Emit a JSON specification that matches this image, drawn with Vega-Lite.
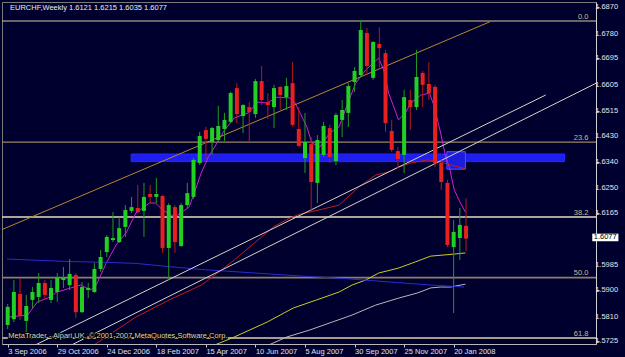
{
  "$schema": "https://vega.github.io/schema/vega-lite/v6.json",
  "width": 594,
  "height": 342,
  "autosize": {"type": "none"},
  "padding": {"left": 2, "top": 2, "right": 29, "bottom": 13},
  "background": "#00002e",
  "config": {
    "view": {"stroke": "#7a7a7a", "strokeWidth": 1, "fill": "#00002e"},
    "font": "Liberation Sans",
    "axis": {"labelOverlap": false, "labelFlush": false, "labelBound": false}
  },
  "resolve": {"scale": {"color": "independent", "fill": "independent", "stroke": "independent", "strokeWidth": "independent"}},
  "datasets": {
    "candles": [
      {"wk":0,"o":1.5781,"h":1.5853,"l":1.5767,"c":1.5843},
      {"wk":1,"o":1.5801,"h":1.5935,"l":1.5791,"c":1.5894},
      {"wk":2,"o":1.5887,"h":1.5942,"l":1.5798,"c":1.5812},
      {"wk":3,"o":1.5795,"h":1.5884,"l":1.5753,"c":1.5846},
      {"wk":4,"o":1.5867,"h":1.5911,"l":1.5839,"c":1.5894},
      {"wk":5,"o":1.5877,"h":1.5959,"l":1.5856,"c":1.5925},
      {"wk":6,"o":1.5925,"h":1.5935,"l":1.5867,"c":1.5884},
      {"wk":7,"o":1.5867,"h":1.5935,"l":1.5856,"c":1.5908},
      {"wk":8,"o":1.5894,"h":1.5959,"l":1.5860,"c":1.5942},
      {"wk":9,"o":1.5935,"h":1.5980,"l":1.5908,"c":1.5942},
      {"wk":10,"o":1.5918,"h":1.6007,"l":1.5901,"c":1.5956},
      {"wk":11,"o":1.5952,"h":1.5959,"l":1.5805,"c":1.5825},
      {"wk":12,"o":1.5825,"h":1.5928,"l":1.5822,"c":1.5911},
      {"wk":13,"o":1.5901,"h":1.5925,"l":1.5873,"c":1.5908},
      {"wk":14,"o":1.5894,"h":1.5993,"l":1.5891,"c":1.5973},
      {"wk":15,"o":1.5973,"h":1.6038,"l":1.5963,"c":1.6014},
      {"wk":16,"o":1.6031,"h":1.6089,"l":1.6014,"c":1.6083},
      {"wk":17,"o":1.6072,"h":1.6168,"l":1.6065,"c":1.6079},
      {"wk":18,"o":1.6065,"h":1.6151,"l":1.6062,"c":1.6113},
      {"wk":19,"o":1.6117,"h":1.6192,"l":1.6083,"c":1.6175},
      {"wk":20,"o":1.6172,"h":1.6220,"l":1.6165,"c":1.6185},
      {"wk":21,"o":1.6182,"h":1.6261,"l":1.6165,"c":1.6168},
      {"wk":22,"o":1.6172,"h":1.6268,"l":1.6083,"c":1.6220},
      {"wk":23,"o":1.6230,"h":1.6261,"l":1.6199,"c":1.6220},
      {"wk":24,"o":1.6220,"h":1.6285,"l":1.6199,"c":1.6230},
      {"wk":25,"o":1.6223,"h":1.6227,"l":1.6028,"c":1.6045},
      {"wk":26,"o":1.6045,"h":1.6199,"l":1.5935,"c":1.6192},
      {"wk":27,"o":1.6185,"h":1.6192,"l":1.6028,"c":1.6065},
      {"wk":28,"o":1.6052,"h":1.6199,"l":1.6048,"c":1.6192},
      {"wk":29,"o":1.6192,"h":1.6268,"l":1.6182,"c":1.6233},
      {"wk":30,"o":1.6220,"h":1.6353,"l":1.6213,"c":1.6347},
      {"wk":31,"o":1.6336,"h":1.6443,"l":1.6329,"c":1.6429},
      {"wk":32,"o":1.6449,"h":1.6460,"l":1.6347,"c":1.6419},
      {"wk":33,"o":1.6408,"h":1.6460,"l":1.6364,"c":1.6456},
      {"wk":34,"o":1.6415,"h":1.6532,"l":1.6408,"c":1.6463},
      {"wk":35,"o":1.6453,"h":1.6508,"l":1.6412,"c":1.6484},
      {"wk":36,"o":1.6477,"h":1.6580,"l":1.6473,"c":1.6576},
      {"wk":37,"o":1.6593,"h":1.6610,"l":1.6473,"c":1.6504},
      {"wk":38,"o":1.6497,"h":1.6538,"l":1.6439,"c":1.6535},
      {"wk":39,"o":1.6528,"h":1.6545,"l":1.6408,"c":1.6511},
      {"wk":40,"o":1.6504,"h":1.6624,"l":1.6491,"c":1.6617},
      {"wk":41,"o":1.6617,"h":1.6669,"l":1.6535,"c":1.6552},
      {"wk":42,"o":1.6545,"h":1.6576,"l":1.6487,"c":1.6535},
      {"wk":43,"o":1.6528,"h":1.6604,"l":1.6456,"c":1.6593},
      {"wk":44,"o":1.6597,"h":1.6600,"l":1.6518,"c":1.6569},
      {"wk":45,"o":1.6562,"h":1.6628,"l":1.6518,"c":1.6600},
      {"wk":46,"o":1.6610,"h":1.6682,"l":1.6460,"c":1.6467},
      {"wk":47,"o":1.6453,"h":1.6528,"l":1.6391,"c":1.6395},
      {"wk":48,"o":1.6353,"h":1.6508,"l":1.6302,"c":1.6408},
      {"wk":49,"o":1.6401,"h":1.6425,"l":1.6168,"c":1.6271},
      {"wk":50,"o":1.6268,"h":1.6432,"l":1.6199,"c":1.6415},
      {"wk":51,"o":1.6364,"h":1.6477,"l":1.6357,"c":1.6463},
      {"wk":52,"o":1.6456,"h":1.6467,"l":1.6336,"c":1.6357},
      {"wk":53,"o":1.6343,"h":1.6508,"l":1.6329,"c":1.6501},
      {"wk":54,"o":1.6484,"h":1.6552,"l":1.6425,"c":1.6518},
      {"wk":55,"o":1.6508,"h":1.6610,"l":1.6460,"c":1.6600},
      {"wk":56,"o":1.6614,"h":1.6665,"l":1.6580,"c":1.6652},
      {"wk":57,"o":1.6638,"h":1.6826,"l":1.6631,"c":1.6792},
      {"wk":58,"o":1.6782,"h":1.6799,"l":1.6638,"c":1.6669},
      {"wk":59,"o":1.6628,"h":1.6754,"l":1.6621,"c":1.6751},
      {"wk":60,"o":1.6744,"h":1.6802,"l":1.6665,"c":1.6730},
      {"wk":61,"o":1.6713,"h":1.6724,"l":1.6443,"c":1.6473},
      {"wk":62,"o":1.6446,"h":1.6484,"l":1.6374,"c":1.6381},
      {"wk":63,"o":1.6377,"h":1.6391,"l":1.6319,"c":1.6350},
      {"wk":64,"o":1.6364,"h":1.6587,"l":1.6302,"c":1.6562},
      {"wk":65,"o":1.6552,"h":1.6587,"l":1.6449,"c":1.6528},
      {"wk":66,"o":1.6528,"h":1.6724,"l":1.6518,"c":1.6631},
      {"wk":67,"o":1.6645,"h":1.6652,"l":1.6528,"c":1.6604},
      {"wk":68,"o":1.6607,"h":1.6682,"l":1.6552,"c":1.6576},
      {"wk":69,"o":1.6597,"h":1.6604,"l":1.6322,"c":1.6336},
      {"wk":70,"o":1.6336,"h":1.6347,"l":1.6244,"c":1.6271},
      {"wk":71,"o":1.6268,"h":1.6278,"l":1.6048,"c":1.6055},
      {"wk":72,"o":1.6048,"h":1.6141,"l":1.5822,"c":1.6100},
      {"wk":73,"o":1.6079,"h":1.6182,"l":1.6004,"c":1.6124},
      {"wk":74,"o":1.6121,"h":1.6215,"l":1.6035,"c":1.6077}
    ],
    "lines": [
      {"s":"m","wk":0.05,"p":1.5808},{"s":"m","wk":3.2,"p":1.5815},{"s":"m","wk":4.8,"p":1.5860},{"s":"m","wk":6.4,"p":1.5873},
      {"s":"m","wk":8.0,"p":1.5894},{"s":"m","wk":10.2,"p":1.5908},{"s":"m","wk":11.8,"p":1.5918},{"s":"m","wk":13.4,"p":1.5901},
      {"s":"m","wk":14.3,"p":1.5918},{"s":"m","wk":15.9,"p":1.5993},{"s":"m","wk":17.5,"p":1.6055},{"s":"m","wk":19.1,"p":1.6096},
      {"s":"m","wk":20.7,"p":1.6165},{"s":"m","wk":22.9,"p":1.6199},{"s":"m","wk":23.9,"p":1.6199},{"s":"m","wk":25.0,"p":1.6175},
      {"s":"m","wk":27.0,"p":1.6151},{"s":"m","wk":29.3,"p":1.6185},{"s":"m","wk":31.3,"p":1.6305},{"s":"m","wk":32.4,"p":1.6357},
      {"s":"m","wk":33.4,"p":1.6391},{"s":"m","wk":35.0,"p":1.6449},{"s":"m","wk":36.6,"p":1.6491},{"s":"m","wk":38.8,"p":1.6508},
      {"s":"m","wk":40.4,"p":1.6545},{"s":"m","wk":41.9,"p":1.6542},{"s":"m","wk":43.5,"p":1.6562},{"s":"m","wk":45.6,"p":1.6559},
      {"s":"m","wk":46.4,"p":1.6542},{"s":"m","wk":47.2,"p":1.6508},{"s":"m","wk":48.3,"p":1.6460},{"s":"m","wk":49.1,"p":1.6405},
      {"s":"m","wk":50.4,"p":1.6391},{"s":"m","wk":52.0,"p":1.6439},{"s":"m","wk":53.5,"p":1.6460},{"s":"m","wk":55.1,"p":1.6552},
      {"s":"m","wk":56.2,"p":1.6610},{"s":"m","wk":57.8,"p":1.6655},{"s":"m","wk":59.9,"p":1.6696},{"s":"m","wk":60.7,"p":1.6655},
      {"s":"m","wk":61.5,"p":1.6576},{"s":"m","wk":63.1,"p":1.6484},{"s":"m","wk":64.2,"p":1.6508},{"s":"m","wk":65.1,"p":1.6542},
      {"s":"m","wk":66.7,"p":1.6569},{"s":"m","wk":68.1,"p":1.6576},{"s":"m","wk":68.9,"p":1.6528},{"s":"m","wk":69.9,"p":1.6439},
      {"s":"m","wk":70.7,"p":1.6357},{"s":"m","wk":71.3,"p":1.6322},{"s":"m","wk":72.1,"p":1.6244},{"s":"m","wk":73.1,"p":1.6199},
      {"s":"m","wk":73.9,"p":1.6168},
      {"s":"r","wk":13.0,"p":1.5695},{"s":"r","wk":13.9,"p":1.5712},{"s":"r","wk":20.7,"p":1.5808},{"s":"r","wk":26.1,"p":1.5867},
      {"s":"r","wk":31.3,"p":1.5918},{"s":"r","wk":32.4,"p":1.5935},{"s":"r","wk":36.6,"p":1.6004},{"s":"r","wk":42.9,"p":1.6117},
      {"s":"r","wk":45.6,"p":1.6148},{"s":"r","wk":47.2,"p":1.6161},{"s":"r","wk":50.8,"p":1.6178},{"s":"r","wk":53.5,"p":1.6192},
      {"s":"r","wk":56.7,"p":1.6254},{"s":"r","wk":59.4,"p":1.6295},{"s":"r","wk":61.5,"p":1.6305},{"s":"r","wk":63.1,"p":1.6322},
      {"s":"r","wk":65.1,"p":1.6336},{"s":"r","wk":67.8,"p":1.6347},{"s":"r","wk":69.1,"p":1.6343},{"s":"r","wk":70.5,"p":1.6336},
      {"s":"r","wk":73.9,"p":1.6316},
      {"s":"y","wk":32.1,"p":1.5699},{"s":"y","wk":33.4,"p":1.5712},{"s":"y","wk":36.6,"p":1.5740},{"s":"y","wk":41.9,"p":1.5791},
      {"s":"y","wk":46.1,"p":1.5839},{"s":"y","wk":49.9,"p":1.5867},{"s":"y","wk":53.5,"p":1.5894},{"s":"y","wk":55.6,"p":1.5918},
      {"s":"y","wk":57.8,"p":1.5935},{"s":"y","wk":59.9,"p":1.5959},{"s":"y","wk":63.1,"p":1.5976},{"s":"y","wk":65.8,"p":1.5997},
      {"s":"y","wk":68.3,"p":1.6017},{"s":"y","wk":72.1,"p":1.6024},{"s":"y","wk":73.9,"p":1.6028},
      {"s":"g","wk":40.5,"p":1.5695},{"s":"g","wk":42.1,"p":1.5712},{"s":"g","wk":45.1,"p":1.5740},{"s":"g","wk":48.8,"p":1.5764},
      {"s":"g","wk":52.4,"p":1.5791},{"s":"g","wk":55.6,"p":1.5815},{"s":"g","wk":59.4,"p":1.5849},{"s":"g","wk":63.1,"p":1.5873},
      {"s":"g","wk":66.2,"p":1.5891},{"s":"g","wk":68.3,"p":1.5908},{"s":"g","wk":69.9,"p":1.5911},{"s":"g","wk":71.5,"p":1.5911},
      {"s":"g","wk":73.9,"p":1.5921},
      {"s":"b","wk":-0.1,"p":1.6007},{"s":"b","wk":9.1,"p":1.5999},{"s":"b","wk":15.4,"p":1.5996},{"s":"b","wk":20.7,"p":1.5992},
      {"s":"b","wk":26.1,"p":1.5981},{"s":"b","wk":31.3,"p":1.5971},{"s":"b","wk":39.3,"p":1.5960},{"s":"b","wk":47.2,"p":1.5949},
      {"s":"b","wk":55.1,"p":1.5939},{"s":"b","wk":63.1,"p":1.5926},{"s":"b","wk":68.3,"p":1.5918},{"s":"b","wk":73.7,"p":1.5911},
      {"s":"o","wk":-1,"p":1.61072},{"s":"o","wk":77.87,"p":1.68206},
      {"s":"w1","wk":-1,"p":1.56557},{"s":"w1","wk":86.87,"p":1.65693},
      {"s":"w2","wk":-1,"p":1.55926},{"s":"w2","wk":95,"p":1.66098}
    ],
    "zones": [
      {"z":"band","wk0":19.94,"wk1":89.9,"p0":1.6367,"p1":1.6341},
      {"z":"box","wk0":70.9,"wk1":73.9,"p0":1.6375,"p1":1.6315}
    ],
    "fib": [
      {"lv":"0.0","p":1.6823},
      {"lv":"23.6","p":1.64079},
      {"lv":"38.2","p":1.61511},
      {"lv":"50.0","p":1.59435},
      {"lv":"61.8","p":1.57359}
    ],
    "yticks": [
      {"v":1.6870},{"v":1.6780},{"v":1.6695},{"v":1.6605},{"v":1.6515},{"v":1.6430},{"v":1.6340},
      {"v":1.6250},{"v":1.6165},{"v":1.5985},{"v":1.5900},{"v":1.5810},{"v":1.5725}
    ]
  },
  "layer": [
    {
      "data": {"name": "zones"},
      "transform": [{"filter": "datum.z == 'band'"}],
      "mark": {"type": "rect", "clip": true, "fill": "#1e1ef0", "stroke": "#2a2aff", "strokeWidth": 1},
      "encoding": {
        "x": {"field": "wk0", "type": "quantitative", "title": null,
          "scale": {"domain": [-0.111, 94.175], "nice": false, "zero": false},
          "axis": {"orient": "bottom", "values": [0,8,16,24,32,40,48,56,64,72],
            "labelExpr": "['3 Sep 2006','29 Oct 2006','24 Dec 2006','18 Feb 2007','15 Apr 2007','10 Jun 2007','5 Aug 2007','30 Sep 2007','25 Nov 2007','20 Jan 2008'][round(datum.value/8)]",
            "labelAlign": "left", "labelBaseline": "top", "labelPadding": 0, "tickSize": 3,
            "tickColor": "#c8c8c8", "domainColor": "#b8b8b8", "labelColor": "#e4e4e4",
            "labelFont": "Liberation Sans", "labelFontSize": 7.5, "grid": false,
            "labelFlush": false, "labelOverlap": false, "labelBound": false, "title": null}},
        "x2": {"field": "wk1"},
        "y": {"field": "p0", "type": "quantitative", "title": null,
          "scale": {"domain": [1.571574, 1.688817], "nice": false, "zero": false},
          "axis": {"orient": "right",
            "values": [1.6870,1.6780,1.6695,1.6605,1.6515,1.6430,1.6340,1.6250,1.6165,1.5985,1.5900,1.5810,1.5725],
            "labels": false, "tickSize": 3,
            "tickColor": "#c8c8c8", "domainColor": "#d0d0d0", "grid": false, "title": null}},
        "y2": {"field": "p1"}
      }
    },
    {
      "data": {"name": "zones"},
      "transform": [{"filter": "datum.z == 'box'"}],
      "mark": {"type": "rect", "clip": true, "fill": "#1c1cdc", "stroke": "#5050ff", "strokeWidth": 1},
      "encoding": {
        "x": {"field": "wk0", "type": "quantitative", "title": null, "axis": {"orient": "bottom"},
          "scale": {"domain": [-0.111, 94.175], "nice": false, "zero": false}},
        "x2": {"field": "wk1"},
        "y": {"field": "p0", "type": "quantitative", "title": null, "axis": {"orient": "right", "labels": false},
          "scale": {"domain": [1.571574, 1.688817], "nice": false, "zero": false}},
        "y2": {"field": "p1"}
      }
    },
    {
      "data": {"name": "fib"},
      "mark": {"type": "rule"},
      "encoding": {
        "y": {"field": "p", "type": "quantitative", "title": null, "axis": {"orient": "right", "labels": false},
          "scale": {"domain": [1.571574, 1.688817], "nice": false, "zero": false}},
        "color": {"field": "lv", "type": "ordinal", "legend": null,
          "scale": {"domain": ["0.0","23.6","38.2","50.0","61.8"], "range": ["#d8c89c","#9a8660","#e6dcc0","#8a7e6e","#a89c8a"]}},
        "strokeWidth": {"field": "lv", "type": "ordinal", "legend": null,
          "scale": {"domain": ["0.0","23.6","38.2","50.0","61.8"], "range": [1, 2, 1.5, 2.5, 1.5]}}
      }
    },
    {
      "data": {"name": "fib"},
      "mark": {"type": "text", "align": "right", "baseline": "bottom", "dy": -0.5, "fontSize": 7.5, "color": "#cdbd92", "font": "Liberation Sans"},
      "encoding": {
        "x": {"datum": 93.75, "type": "quantitative", "title": null, "axis": {"orient": "bottom"},
          "scale": {"domain": [-0.111, 94.175], "nice": false, "zero": false}},
        "y": {"field": "p", "type": "quantitative", "title": null, "axis": {"orient": "right", "labels": false},
          "scale": {"domain": [1.571574, 1.688817], "nice": false, "zero": false}},
        "text": {"field": "lv"}
      }
    },
    {
      "data": {"name": "lines"},
      "mark": {"type": "line", "clip": true, "strokeWidth": 1},
      "encoding": {
        "x": {"field": "wk", "type": "quantitative", "title": null, "axis": {"orient": "bottom"},
          "scale": {"domain": [-0.111, 94.175], "nice": false, "zero": false}},
        "y": {"field": "p", "type": "quantitative", "title": null, "axis": {"orient": "right", "labels": false},
          "scale": {"domain": [1.571574, 1.688817], "nice": false, "zero": false}},
        "color": {"field": "s", "type": "nominal", "legend": null,
          "scale": {"domain": ["m","r","y","g","b","o","w1","w2"],
            "range": ["#d020d0","#c01c1c","#cccc22","#b8b8b8","#2a2ad0","#b8862b","#d4d4c4","#d4d4c4"]}}
      }
    },
    {
      "data": {"name": "candles"},
      "mark": {"type": "rule", "strokeWidth": 1},
      "encoding": {
        "x": {"field": "wk", "type": "quantitative", "title": null, "axis": {"orient": "bottom"},
          "scale": {"domain": [-0.111, 94.175], "nice": false, "zero": false}},
        "y": {"field": "l", "type": "quantitative", "title": null, "axis": {"orient": "right", "labels": false},
          "scale": {"domain": [1.571574, 1.688817], "nice": false, "zero": false}},
        "y2": {"field": "h"},
        "color": {"condition": {"test": "datum.c >= datum.o", "value": "#1f9a1f"}, "value": "#b81818"}
      }
    },
    {
      "data": {"name": "candles"},
      "mark": {"type": "bar", "size": 4},
      "encoding": {
        "x": {"field": "wk", "type": "quantitative", "title": null, "axis": {"orient": "bottom"},
          "scale": {"domain": [-0.111, 94.175], "nice": false, "zero": false}},
        "y": {"field": "o", "type": "quantitative", "title": null, "axis": {"orient": "right", "labels": false},
          "scale": {"domain": [1.571574, 1.688817], "nice": false, "zero": false}},
        "y2": {"field": "c"},
        "color": {"condition": {"test": "datum.c >= datum.o", "value": "#22d022"}, "value": "#e8201f"}
      }
    },
    {
      "data": {"name": "yticks"},
      "mark": {"type": "text", "align": "left", "baseline": "middle", "fontSize": 7.5, "color": "#e4e4e4", "font": "Liberation Sans", "clip": false},
      "encoding": {
        "x": {"datum": 94.85, "type": "quantitative", "title": null, "axis": {"orient": "bottom"},
          "scale": {"domain": [-0.111, 94.175], "nice": false, "zero": false}},
        "y": {"field": "v", "type": "quantitative", "title": null, "axis": {"orient": "right", "labels": false},
          "scale": {"domain": [1.571574, 1.688817], "nice": false, "zero": false}},
        "text": {"field": "v", "type": "quantitative", "format": ".4f"}
      }
    },
    {
      "data": {"values": [{}]},
      "mark": {"type": "text", "align": "left", "baseline": "middle", "fontSize": 7.5, "color": "#ececec", "font": "Liberation Sans",
        "text": "EURCHF,Weekly  1.6121 1.6215 1.6035 1.6077"},
      "encoding": {
        "x": {"datum": 0.37, "type": "quantitative", "title": null, "axis": {"orient": "bottom"},
          "scale": {"domain": [-0.111, 94.175], "nice": false, "zero": false}},
        "y": {"datum": 1.68676, "type": "quantitative", "title": null, "axis": {"orient": "right", "labels": false},
          "scale": {"domain": [1.571574, 1.688817], "nice": false, "zero": false}}
      }
    },
    {
      "data": {"values": [{}]},
      "mark": {"type": "text", "align": "left", "baseline": "middle", "fontSize": 7.5, "color": "#000000", "stroke": "#000000", "strokeWidth": 2, "font": "Liberation Sans",
        "text": "MetaTrader - Alpari UK, © 2001-2007 MetaQuotes Software Corp."},
      "encoding": {
        "x": {"datum": 0.1, "type": "quantitative", "title": null, "axis": {"orient": "bottom"},
          "scale": {"domain": [-0.111, 94.175], "nice": false, "zero": false}},
        "y": {"datum": 1.57432, "type": "quantitative", "title": null, "axis": {"orient": "right", "labels": false},
          "scale": {"domain": [1.571574, 1.688817], "nice": false, "zero": false}}
      }
    },
    {
      "data": {"values": [{}]},
      "mark": {"type": "text", "align": "left", "baseline": "middle", "fontSize": 7.5, "color": "#d4d4d4", "font": "Liberation Sans",
        "text": "MetaTrader - Alpari UK, © 2001-2007 MetaQuotes Software Corp."},
      "encoding": {
        "x": {"datum": 0.1, "type": "quantitative", "title": null, "axis": {"orient": "bottom"},
          "scale": {"domain": [-0.111, 94.175], "nice": false, "zero": false}},
        "y": {"datum": 1.57432, "type": "quantitative", "title": null, "axis": {"orient": "right", "labels": false},
          "scale": {"domain": [1.571574, 1.688817], "nice": false, "zero": false}}
      }
    },
    {
      "data": {"values": [{}]},
      "mark": {"type": "rect", "fill": "#ffffff", "clip": false},
      "encoding": {
        "x": {"datum": 94.38, "type": "quantitative", "title": null, "axis": {"orient": "bottom"},
          "scale": {"domain": [-0.111, 94.175], "nice": false, "zero": false}},
        "x2": {"datum": 98.6},
        "y": {"datum": 1.6094, "type": "quantitative", "title": null, "axis": {"orient": "right", "labels": false},
          "scale": {"domain": [1.571574, 1.688817], "nice": false, "zero": false}},
        "y2": {"datum": 1.6068}
      }
    },
    {
      "data": {"values": [{}]},
      "mark": {"type": "text", "align": "left", "baseline": "middle", "fontSize": 7.5, "color": "#000000", "font": "Liberation Sans", "text": "1.6077", "clip": false},
      "encoding": {
        "x": {"datum": 94.62, "type": "quantitative", "title": null, "axis": {"orient": "bottom"},
          "scale": {"domain": [-0.111, 94.175], "nice": false, "zero": false}},
        "y": {"datum": 1.6081, "type": "quantitative", "title": null, "axis": {"orient": "right", "labels": false},
          "scale": {"domain": [1.571574, 1.688817], "nice": false, "zero": false}}
      }
    }
  ]
}
